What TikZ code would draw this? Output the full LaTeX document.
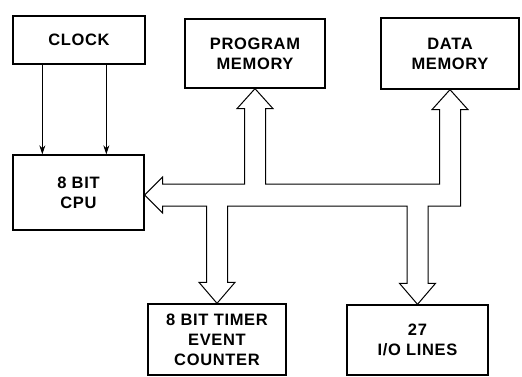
\documentclass[tikz,border=0pt]{standalone}
\usepackage{fontspec}
\setmainfont{Liberation Sans}[LetterSpace=4]
\usetikzlibrary{arrows.meta}
\begin{document}
\begin{tikzpicture}[x=1pt,y=-1pt,
  box/.style={draw,line width=1.3pt,inner sep=0pt,align=center,
    font=\fontsize{16.5}{20}\selectfont\bfseries},
  clk/.style={line width=1pt,-{Stealth[length=9pt,width=6pt]}},
  bus/.style={line width=1pt,line join=miter}]
\useasboundingbox (0,0) rectangle (522,377);
\node[box,minimum width=132pt,minimum height=48pt] (clock) at (79,40) {CLOCK};
\node[box,minimum width=131pt,minimum height=75pt] (cpu) at (78.5,192.5) {8 BIT\\CPU};
\node[box,minimum width=140pt,minimum height=69pt] (pmem) at (255,53.5) {PROGRAM\\MEMORY};
\node[box,minimum width=138pt,minimum height=71pt] (dmem) at (450,53.5) {DATA\\MEMORY};
\node[box,minimum width=138pt,minimum height=71pt] (timer) at (217,339.5) {8 BIT TIMER\\EVENT\\COUNTER};
\node[box,minimum width=141pt,minimum height=70pt] (io) at (417.5,340) {27\\I/O LINES};
% clock lines
\draw[clk] ([xshift=30pt]clock.south west) -- ([xshift=30pt]cpu.north west);
\draw[clk] ([xshift=94pt]clock.south west) -- ([xshift=94pt]cpu.north west);
% bus
\coordinate (ct) at ([yshift=-2.5pt]cpu.east);
\coordinate (u) at ([yshift=11pt]ct);
\coordinate (l) at ([yshift=-11pt]ct);
\coordinate (pt) at (pmem.south);
\coordinate (dt) at (dmem.south);
\coordinate (tt) at (timer.north);
\coordinate (it) at (io.north);
\draw[bus] (ct) -- ([xshift=18pt,yshift=18pt]ct) -- ([xshift=18pt]u)
  -- ([xshift=-10.5pt]pt |- u) -- ([xshift=-10.5pt,yshift=-20pt]pt)
  -- ([xshift=-18pt,yshift=-20pt]pt) -- (pt) -- ([xshift=18pt,yshift=-20pt]pt)
  -- ([xshift=10.5pt,yshift=-20pt]pt) -- ([xshift=10.5pt]pt |- u)
  -- ([xshift=-10.5pt]dt |- u) -- ([xshift=-10.5pt,yshift=-20pt]dt)
  -- ([xshift=-18pt,yshift=-20pt]dt) -- (dt) -- ([xshift=18pt,yshift=-20pt]dt)
  -- ([xshift=10.5pt,yshift=-20pt]dt) -- ([xshift=10.5pt]dt |- l)
  -- ([xshift=10.5pt]it |- l) -- ([xshift=10.5pt,yshift=21pt]it)
  -- ([xshift=18pt,yshift=21pt]it) -- (it) -- ([xshift=-18pt,yshift=21pt]it)
  -- ([xshift=-10.5pt,yshift=21pt]it) -- ([xshift=-10.5pt]it |- l)
  -- ([xshift=10.5pt]tt |- l) -- ([xshift=10.5pt,yshift=21pt]tt)
  -- ([xshift=18pt,yshift=21pt]tt) -- (tt) -- ([xshift=-18pt,yshift=21pt]tt)
  -- ([xshift=-10.5pt,yshift=21pt]tt) -- ([xshift=-10.5pt]tt |- l)
  -- ([xshift=18pt]l) -- ([xshift=18pt,yshift=-18pt]ct) -- cycle;
\end{tikzpicture}
\end{document}
